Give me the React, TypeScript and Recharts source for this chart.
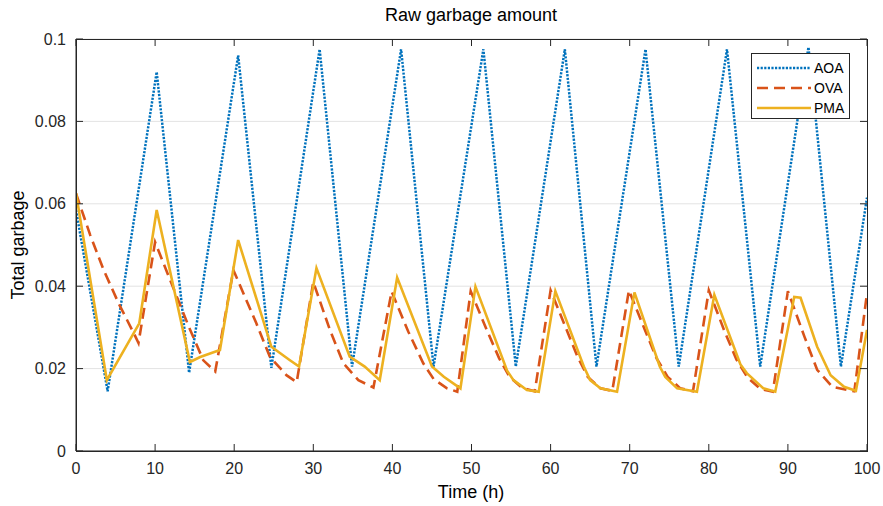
import { LineChart, Line, XAxis, YAxis, CartesianGrid } from 'recharts';

const xTicks = [0, 10, 20, 30, 40, 50, 60, 70, 80, 90, 100];
const yTicks = [0, 0.02, 0.04, 0.06, 0.08, 0.1];

// AOA: triangle wave, vertices
const aoaTime = [0, 4.0, 10.2, 14.3, 20.5, 24.7, 30.8, 34.9, 41.1, 45.2, 51.5, 55.6, 61.8, 65.8, 72.0, 76.2, 82.3, 86.5, 92.6, 96.7, 100];
const aoaValue = [0.0585, 0.0145, 0.092, 0.019, 0.096, 0.0202, 0.0975, 0.0205, 0.0975, 0.0205, 0.0975, 0.0205, 0.0975, 0.0205, 0.0975, 0.0205, 0.0975, 0.0205, 0.098, 0.0205, 0.0615];

const ovaTime = [
  0, 1.8, 3.5, 5.4, 7.3, 7.9, 10.0, 11.9, 14.3, 16.1, 17.6, 19.9,
  22.8, 24.5, 26.6, 27.9, 30.0, 32.1, 33.8, 35.7, 37.6, 39.9,
  42.0, 43.9, 45.2, 46.9, 48.2, 49.9, 51.9, 53.5, 54.8, 56.4, 58.0, 60.0,
  61.9, 63.4, 64.7, 66.3, 67.8, 69.9, 71.9, 73.4, 74.8, 76.4, 78.0, 80.0,
  82.0, 83.5, 84.9, 86.5, 88.1, 90.0, 92.1, 93.7, 95.6, 97.5, 98.4, 100,
];
const ovaValue = [
  0.0625, 0.0524, 0.0439, 0.0358, 0.0286, 0.0262, 0.0507, 0.0415, 0.030, 0.022, 0.0193, 0.0439,
  0.031, 0.0229, 0.0184, 0.0167, 0.041, 0.0294, 0.0213, 0.0172, 0.0154, 0.0387,
  0.029, 0.0213, 0.0175, 0.0152, 0.0144, 0.0388, 0.0295, 0.0225, 0.018, 0.0153, 0.0145, 0.039,
  0.030, 0.0229, 0.018, 0.0152, 0.0146, 0.039, 0.0295, 0.0225, 0.018, 0.0152, 0.0145, 0.039,
  0.029, 0.0222, 0.0178, 0.0151, 0.0144, 0.0388, 0.0277, 0.0197, 0.0156, 0.0148, 0.0145, 0.0383,
];

const pmaTime = [
  0, 3.9, 8.0, 10.2, 14.4, 15.7, 18.2, 20.5, 24.7, 27.0, 28.2, 30.4,
  34.6, 36.5, 38.4, 40.6, 45.0, 46.5, 48.6, 50.5, 54.5, 55.3, 57.0, 58.5, 60.6,
  64.2, 65.0, 66.3, 68.4, 70.6, 73.8, 74.5, 76.0, 78.5, 80.7,
  84.0, 84.8, 86.9, 88.4, 90.8, 91.6, 93.7, 95.4, 97.1, 98.6, 100,
];
const pmaValue = [
  0.0626, 0.0172, 0.031, 0.0585, 0.0216, 0.0228, 0.0245, 0.0512, 0.0253, 0.0221, 0.0205, 0.0444,
  0.0229, 0.0205, 0.0172, 0.0421, 0.0205, 0.018, 0.0152, 0.0399, 0.0195, 0.0172, 0.0148, 0.0144, 0.0388,
  0.0205, 0.0172, 0.0152, 0.0144, 0.0385, 0.0205, 0.018, 0.0152, 0.0144, 0.0379,
  0.021, 0.0189, 0.0152, 0.0144, 0.0374, 0.0372, 0.0253, 0.0184, 0.0156, 0.0146, 0.0294,
];

// one table on the union of sample times; gaps are bridged with connectNulls
const valueAt = (times: number[], values: number[], t: number) => {
  const i = times.indexOf(t);
  return i >= 0 ? values[i] : null;
};
const allTimes = Array.from(new Set([...aoaTime, ...ovaTime, ...pmaTime])).sort((a, b) => a - b);
const chartData = allTimes.map(t => ({
  t,
  aoa: valueAt(aoaTime, aoaValue, t),
  ova: valueAt(ovaTime, ovaValue, t),
  pma: valueAt(pmaTime, pmaValue, t),
}));

const series = [
  { key: 'aoa', name: 'AOA', color: '#0072BD', dash: '2.2 1.4', width: 2.5 },
  { key: 'ova', name: 'OVA', color: '#D95319', dash: '11 6', width: 2.6 },
  { key: 'pma', name: 'PMA', color: '#EDB120', dash: undefined, width: 2.6 },
];

const axisColor = '#262626';
const font = '"Liberation Sans", Arial, Helvetica, sans-serif';

// plot box (must match the chart margins and axis sizes below)
const box = { left: 76, top: 39, width: 791, height: 412 };
const TICK = 7;

// MATLAB-style frame with inward ticks on all four sides
function Frame() {
  const { left, top, width, height } = box;
  const xs = xTicks.map(t => left + (t / 100) * width);
  const ys = yTicks.map(t => top + height - (t / 0.1) * height);
  return (
    <svg width={883} height={506} style={{ position: 'absolute', left: 0, top: 0, pointerEvents: 'none' }}>
      <rect x={left} y={top} width={width} height={height} fill="none" stroke={axisColor} shapeRendering="crispEdges" />
      {xs.map((x, i) => (
        <g key={`x${i}`}>
          <line x1={x} x2={x} y1={top + height} y2={top + height - TICK} stroke={axisColor} />
          <line x1={x} x2={x} y1={top} y2={top + TICK} stroke={axisColor} />
        </g>
      ))}
      {ys.map((y, i) => (
        <g key={`y${i}`}>
          <line x1={left} x2={left + TICK} y1={y} y2={y} stroke={axisColor} />
          <line x1={left + width} x2={left + width - TICK} y1={y} y2={y} stroke={axisColor} />
        </g>
      ))}
    </svg>
  );
}

function LegendBox() {
  return (
    <div style={{ position: 'absolute', left: 751, top: 53, border: `1px solid ${axisColor}`, background: '#fff', padding: '4px 4px 0 4px', width: 89 }}>
      {series.map(s => (
        <div key={s.name} style={{ display: 'flex', alignItems: 'center', height: 20 }}>
          <svg width={56} height={6}>
            <line x1={1} x2={55} y1={3} y2={3} stroke={s.color} strokeWidth={2.5} strokeDasharray={s.dash} />
          </svg>
          <span style={{ fontSize: 14, color: '#000', marginLeft: 2 }}>{s.name}</span>
        </div>
      ))}
    </div>
  );
}

export default function App() {
  return (
    <div style={{ position: 'absolute', left: 0, top: 0, width: 883, height: 506, background: '#fff', fontFamily: font }}>
      <div style={{ position: 'absolute', left: 271, width: 400, top: 5, textAlign: 'center', fontSize: 18, lineHeight: '20px', color: '#000' }}>
        Raw garbage amount
      </div>
      <div style={{ position: 'absolute', left: 371, width: 200, top: 482, textAlign: 'center', fontSize: 18, lineHeight: '20px', color: '#000' }}>
        Time (h)
      </div>
      <div style={{ position: 'absolute', left: 18 - 100, top: 245 - 10, width: 200, textAlign: 'center', fontSize: 18, lineHeight: '20px', color: '#000', transform: 'rotate(-90deg)' }}>
        Total garbage
      </div>
      <LineChart width={883} height={506} data={chartData} margin={{ top: 39, right: 16, bottom: 0, left: 0 }}>
        <CartesianGrid vertical={false} stroke="#e3e3e3" />
        <XAxis
          dataKey="t" type="number" domain={[0, 100]} ticks={xTicks} allowDataOverflow
          height={55} tickSize={7} tickMargin={5} tickLine={false} stroke={axisColor}
          tick={{ fill: axisColor, fontSize: 16 }}
        />
        <YAxis
          type="number" domain={[0, 0.1]} ticks={yTicks} allowDataOverflow
          width={76} tickSize={7} tickMargin={3} tickLine={false} stroke={axisColor}
          tick={{ fill: axisColor, fontSize: 16 }}
        />
        {series.map(s => (
          <Line
            key={s.key}
            dataKey={s.key}
            name={s.name}
            type="linear"
            connectNulls
            stroke={s.color}
            strokeWidth={s.width}
            strokeDasharray={s.dash}
            dot={false}
            activeDot={false}
            isAnimationActive={false}
          />
        ))}
      </LineChart>
      <Frame />
      <LegendBox />
    </div>
  );
}
